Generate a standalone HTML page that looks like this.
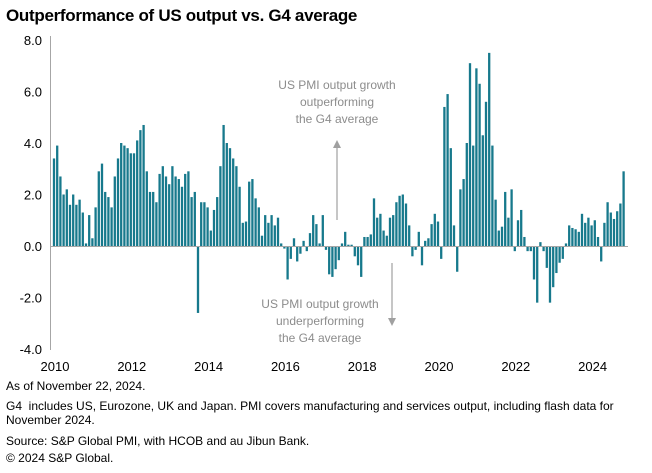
<!DOCTYPE html>
<html><head><meta charset="utf-8"><style>
body{margin:0;background:#fff;font-family:"Liberation Sans",Arial,sans-serif}
#wrap{position:relative;width:652px;height:473px;overflow:hidden}
.t{position:absolute;left:6px;font-size:12px;color:#000;white-space:nowrap}
</style></head><body>
<div id="wrap">
<div style="position:absolute;left:6px;top:6px;font-size:17px;font-weight:bold;letter-spacing:-0.3px">Outperformance of US output vs. G4 average</div>
<svg id="c" width="652" height="380" style="position:absolute;left:0;top:0"></svg>
<div class="t" style="top:379px">As of November 22, 2024.</div>
<div class="t" style="top:399px">G4&nbsp; includes US, Eurozone, UK and Japan. PMI covers manufacturing and services output, including flash data for</div>
<div class="t" style="top:413px">November 2024.</div>
<div class="t" style="top:434px">Source: S&amp;P Global PMI, with HCOB and au Jibun Bank.</div>
<div class="t" style="top:451px">© 2024 S&amp;P Global.</div>
</div>
<script>
const values = [
3.4,3.9,2.7,2.0,2.2,1.6,2.0,1.6,1.8,1.3,0.1,1.2,0.3,1.5,2.9,3.2,2.1,1.9,1.5,2.7,3.4,4.0,3.9,3.8,3.6,3.6,4.1,4.5,4.7,2.9,
2.1,2.1,1.7,2.8,3.1,2.7,2.4,3.1,2.7,2.6,2.3,2.8,2.9,1.9,2.1,-2.6,1.7,1.7,1.5,0.6,1.4,1.9,3.1,4.7,4.0,3.8,3.4,3.1,
2.3,0.9,0.95,2.5,2.6,1.85,1.5,0.4,1.2,0.9,1.2,0.8,1.1,0.1,-0.1,-1.3,-0.5,0.3,-0.6,-0.3,0.2,-0.2,0.5,1.2,0.85,0.1,1.2,-0.15,-1.1,-1.2,
-0.9,-0.55,0.1,0.55,0.05,0.05,-0.4,-0.75,-1.2,0.35,0.35,0.45,1.85,1.1,1.25,0.6,0.4,1.1,1.2,1.7,1.95,2.0,1.65,0.8,-0.4,
-0.15,0.55,-0.75,0.2,0.3,0.85,1.25,0.95,-0.5,5.4,5.9,3.8,0.8,-1.0,2.2,2.6,4.0,7.1,3.9,6.9,6.3,4.3,5.6,7.5,3.9,1.8,0.6,
0.75,2.1,1.1,2.2,-0.2,1.0,1.4,0.35,-0.2,-0.2,-1.3,-2.2,0.15,-0.2,-0.85,-2.2,-1.6,-1.05,-0.65,-0.5,0.1,0.8,0.7,0.65,0.55,1.25,0.9,1.1,0.8,1.0,0.35,-0.6,0.9,1.7,1.3,1.05,1.35,1.65,2.9];
const yTicks = [8,6,4,2,0,-2,-4];
const yTickLabels = ["8.0","6.0","4.0","2.0","0.0","-2.0","-4.0"];
const xYears = [2010,2012,2014,2016,2018,2020,2022,2024];

const svg=document.getElementById('c');const NS='http://www.w3.org/2000/svg';
const y0=40,y1=349,vmax=8,vmin=-4;
const y=v=>y0+(vmax-v)*(y1-y0)/(vmax-vmin);
const x0=54,step=3.2;
const x=i=>x0+i*step;
function el(t,a){const e=document.createElementNS(NS,t);for(const k in a)e.setAttribute(k,a[k]);svg.appendChild(e);return e;}
yTicks.forEach((v,i)=>{const t=el('text',{x:42,y:y(v)+5,'text-anchor':'end','font-size':13,fill:'#000'});t.textContent=yTickLabels[i];

});
xYears.forEach(yr=>{const t=el('text',{x:x((yr-2010)*12)+1,y:371,'text-anchor':'middle','font-size':13,fill:'#000'});t.textContent=yr;

});
values.forEach((v,i)=>{const r=el('rect',{x:x(i)-1.15,y:Math.min(y(v),y(0)),width:2.3,height:Math.abs(y(v)-y(0)),fill:'#17798c'});

});
const ax=el('line',{x1:50.5,y1:36,x2:50.5,y2:350,stroke:'#a6a6a6','stroke-width':1});


const zl=el('line',{x1:50,y1:y(0)+0.5,x2:628,y2:y(0)+0.5,stroke:'#a6a6a6','stroke-width':1});


function ann(lines,cx,top,name){lines.forEach((s,i)=>{const t=el('text',{x:cx,y:top+i*17,'text-anchor':'middle','font-size':12,fill:'#8c8c8c'});t.textContent=s;

});}
ann(["US PMI output growth","outperforming","the G4 average"],337,89,'annotation-outperforming');
ann(["US PMI output growth","underperforming","the G4 average"],320,308,'annotation-underperforming');
const a1=el('line',{x1:337,y1:220,x2:337,y2:146,stroke:'#a0a0a0','stroke-width':1.2});


const h1=el('polygon',{points:'333,148 341,148 337,140',fill:'#a0a0a0'});


const a2=el('line',{x1:392,y1:263,x2:392,y2:320,stroke:'#a0a0a0','stroke-width':1.2});


const h2=el('polygon',{points:'388,318 396,318 392,326',fill:'#a0a0a0'});


</script>
</body></html>
